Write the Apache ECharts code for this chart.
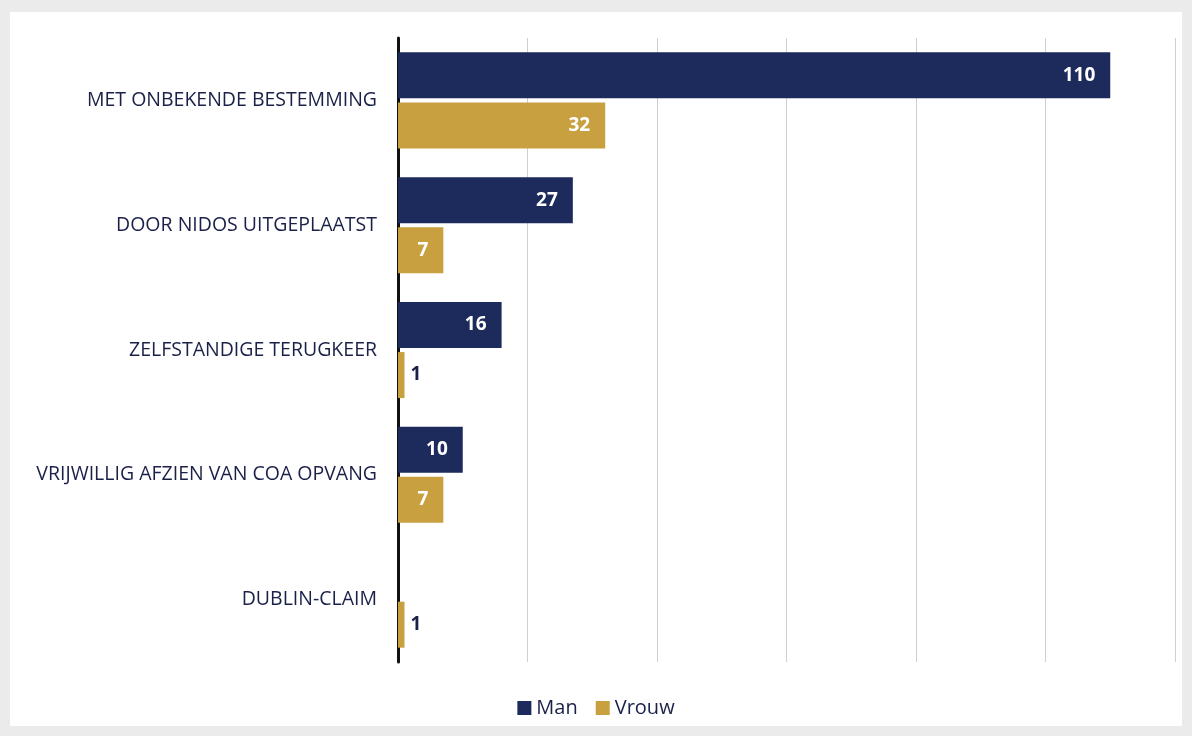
<!DOCTYPE html>
<html><head><meta charset="utf-8">
<script src="https://cdn.jsdelivr.net/npm/echarts@6/dist/echarts.min.js"></script>
<style>html,body{margin:0;padding:0;background:#ebebeb}#c{width:1192px;height:736px}</style>
</head><body><div id="c"></div>
<script>
const categories = ['MET ONBEKENDE BESTEMMING','DOOR NIDOS UITGEPLAATST','ZELFSTANDIGE TERUGKEER','VRIJWILLIG AFZIEN VAN COA OPVANG','DUBLIN-CLAIM'];
const manValues = [110, 27, 16, 10, 0];
const vrouwValues = [32, 7, 1, 7, 1];
const seriesNames = ['Man', 'Vrouw'];

const NAVY = '#1c2a5c', GOLD = '#c9a03f', TXT = '#1a2048';
function mk(vals) {
  return vals.map(v => {
    if (v === 0) return { value: v, label: { show: false } };
    if (v < 3) return { value: v, label: { position: 'right', color: TXT, distance: 6 } };
    return { value: v };
  });
}
const chart = echarts.init(document.getElementById('c'));
chart.setOption({
  backgroundColor: '#ebebeb',
  animation: false,
  graphic: [{ type: 'rect', shape: { x: 10, y: 12, width: 1172, height: 714 }, style: { fill: '#ffffff' }, z: -10 }],
  grid: { left: 398, right: 17, top: 38, bottom: 74 },
  legend: {
    bottom: 13, left: 'center', itemWidth: 14, itemHeight: 14, itemGap: 18,
    icon: 'rect',
    textStyle: { color: TXT, fontSize: 20, fontFamily: 'Open Sans' },
    data: seriesNames
  },
  xAxis: {
    type: 'value', min: 0, max: 120, interval: 20,
    axisLabel: { show: false }, axisLine: { show: false }, axisTick: { show: false },
    splitLine: { lineStyle: { color: '#cfcfcf', width: 1 } }
  },
  yAxis: {
    type: 'category', inverse: true, data: categories,
    axisLine: { lineStyle: { color: '#111111', width: 3 } },
    axisTick: { show: false },
    axisLabel: { color: TXT, fontSize: 19.5, fontFamily: 'Open Sans', margin: 21 }
  },
  series: [
    { name: seriesNames[0], type: 'bar', data: mk(manValues), barWidth: 46, barGap: '9%',
      itemStyle: { color: NAVY },
      label: { show: true, position: 'insideRight', color: '#ffffff', fontWeight: 'bold', fontSize: 19, fontFamily: 'Open Sans', distance: 15 } },
    { name: seriesNames[1], type: 'bar', data: mk(vrouwValues), barWidth: 46,
      itemStyle: { color: GOLD },
      label: { show: true, position: 'insideRight', color: '#ffffff', fontWeight: 'bold', fontSize: 19, fontFamily: 'Open Sans', distance: 15 } }
  ]
});
</script></body></html>
